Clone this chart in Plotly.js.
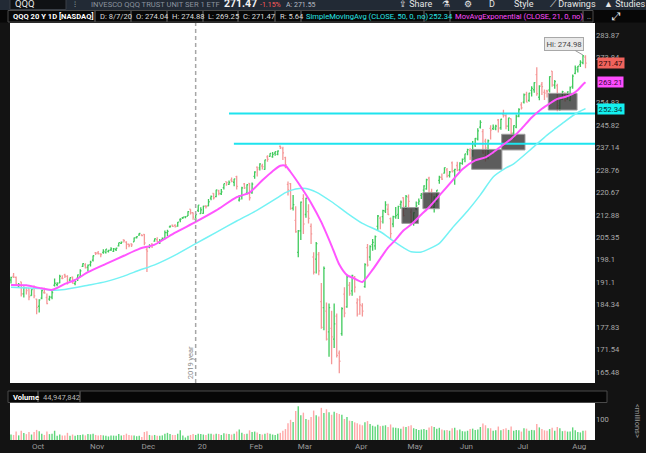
<!DOCTYPE html>
<html><head><meta charset="utf-8">
<script src="https://cdn.plot.ly/plotly-3.0.1.min.js"></script>
<style>html,body{margin:0;padding:0;background:#131313;overflow:hidden}#chart{width:646px;height:453px}</style>
</head><body><div id="chart"></div>
<script>
// ---- DATA (daily bars, Sep 18 2019 .. Aug 7 2020, index = trading day) ----
const openP = [191.8,192.9,192.6,190.0,191.2,187.6,189.5,189.2,187.1,
189.6,186.0,183.9,186.3,188.0,186.5,186.0,186.6,190.2,190.4,190.9,192.4,193.4,192.9,191.8,192.7,190.7,192.4,192.8,196.0,196.5,195.8,196.6,
198.0,200.3,200.3,200.0,200.5,200.4,200.8,201.3,200.8,201.4,202.6,203.4,204.5,203.8,203.1,203.2,203.9,205.3,206.1,206.2,
206.3,201.4,202.2,203.2,204.1,204.6,203.9,204.6,205.0,206.9,208.8,209.4,209.3,209.1,211.2,211.9,212.2,212.5,214.8,213.6,211.4,
214.4,213.3,213.4,215.8,216.0,218.7,220.3,219.2,221.2,220.2,222.4,224.5,223.5,225.1,224.3,226.3,218.0,219.2,223.7,220.4,223.9,
220.5,226.4,229.8,229.5,230.2,229.0,233.6,233.8,233.6,235.0,234.5,237.6,236.7,233.3,223.5,223.8,215.2,211.0,200.5,
207.5,218.5,213.0,214.0,209.0,199.0,198.3,199.8,185.3,183.5,182.5,176.5,177.5,174.5,181.0,170.6,176.0,187.5,183.7,190.2,188.5,192.8,
184.9,185.8,184.0,189.8,202.0,199.0,203.0,202.6,209.0,211.8,212.3,214.2,214.8,211.6,209.8,212.2,213.0,216.5,218.8,215.8,219.0,
213.8,210.0,215.0,217.0,219.6,221.5,221.9,225.8,220.8,215.5,217.6,225.0,226.0,227.6,228.8,226.8,231.4,228.5,230.4,228.9,
231.2,233.1,235.5,236.0,234.6,238.1,240.3,245.0,243.2,239.6,233.3,244.5,244.4,244.3,247.8,244.8,250.0,249.5,245.4,248.3,242.6,245.0,
249.4,253.9,255.0,258.2,255.7,259.8,260.1,266.5,257.0,262.3,259.0,259.6,260.0,268.0,262.0,261.8,252.6,256.1,258.7,256.2,255.7,261.5,
267.0,268.6,270.8,271.6,274.04];
const highP = [192.8,194.0,192.9,190.9,191.3,189.8,189.6,189.3,189.0,
190.1,186.1,186.0,188.8,189.4,187.7,187.0,188.5,192.3,191.1,193.4,193.3,193.7,193.3,192.6,192.9,191.4,193.5,195.1,197.0,197.0,196.6,197.8,
199.5,200.6,200.9,200.2,201.5,201.6,201.3,202.1,201.9,202.0,203.6,204.0,204.7,204.1,203.3,203.4,205.3,205.7,206.8,206.4,
206.5,202.3,203.1,203.4,205.0,205.4,204.8,205.3,207.6,207.9,209.3,209.6,209.7,210.5,211.7,212.1,212.4,214.1,214.8,213.7,213.1,
216.2,215.5,216.0,216.3,218.4,219.6,220.4,221.6,221.6,221.9,223.8,224.5,224.9,226.0,225.6,226.6,219.8,222.7,224.0,223.6,224.0,
224.2,228.3,230.0,231.2,231.0,232.5,234.2,235.0,235.4,235.6,236.0,237.9,237.4,233.6,224.6,224.0,219.8,215.8,207.8,
217.5,220.0,218.8,216.5,210.0,200.5,203.8,200.6,190.9,196.0,185.0,184.7,182.6,184.7,181.8,171.3,183.6,189.6,193.4,191.2,193.4,193.0,
186.3,187.0,184.8,197.0,203.2,202.8,204.8,206.0,212.8,212.3,214.6,217.6,216.7,212.0,212.6,215.6,216.0,217.8,219.0,219.8,219.9,
215.0,213.8,217.5,218.5,220.5,223.2,225.6,226.3,222.0,219.3,221.5,226.6,227.5,229.7,229.5,228.4,231.9,229.2,231.8,231.6,
233.0,234.8,236.7,236.8,239.6,240.8,244.6,247.7,244.3,240.5,240.2,245.7,246.0,245.9,248.2,248.3,251.9,250.1,248.7,248.4,245.7,250.0,
252.5,254.9,258.5,259.3,258.9,261.6,263.2,269.6,262.0,263.3,260.2,260.1,265.8,268.0,264.2,262.6,256.6,259.7,259.0,259.5,261.5,266.5,
270.4,270.2,272.7,274.98,274.88];
const lowP = [190.7,192.4,190.2,189.6,186.8,186.5,187.4,185.7,187.0,
186.3,181.6,182.1,186.0,187.6,184.5,185.5,186.0,189.8,189.9,190.8,192.0,192.4,190.4,191.4,190.7,190.2,191.5,192.7,195.8,195.4,194.4,196.0,
197.6,199.6,199.8,198.9,200.0,200.1,200.4,200.9,200.6,200.9,202.4,203.2,203.7,201.5,202.1,202.2,203.9,205.0,205.9,205.7,
202.8,194.3,201.8,201.9,203.9,203.8,203.2,204.3,204.7,205.8,208.5,208.8,208.6,208.9,210.4,211.5,211.7,212.5,213.0,211.2,211.0,
213.9,213.3,213.3,215.1,215.8,217.9,218.2,219.0,219.7,219.8,221.7,223.0,223.3,224.3,222.9,221.7,217.5,218.2,221.9,219.9,217.8,
220.2,225.6,226.4,228.6,228.9,228.8,231.8,233.6,233.3,234.0,234.2,236.6,232.4,229.4,219.6,214.6,214.4,206.9,198.9,
204.5,206.5,211.9,210.0,203.2,193.5,193.8,193.3,177.4,177.0,174.1,169.6,167.6,172.0,169.4,165.2,175.4,180.7,183.5,187.0,187.0,188.0,
180.9,181.4,180.9,189.4,196.0,197.8,201.0,201.3,207.8,208.0,210.0,213.5,212.8,204.5,208.7,211.6,211.5,215.0,212.3,214.8,215.6,
209.9,209.2,214.5,216.3,218.4,220.6,221.6,220.1,215.0,213.7,217.2,223.8,225.1,227.5,226.0,226.0,227.9,223.4,228.3,228.0,
230.7,231.6,234.2,232.4,233.6,237.3,239.8,244.5,234.8,231.9,232.7,240.2,243.9,243.8,242.9,244.0,248.8,244.2,243.5,242.1,240.6,244.6,
248.9,252.0,254.4,254.9,255.2,257.3,258.9,257.6,255.8,257.9,255.9,256.9,259.0,261.4,260.5,251.3,251.5,255.9,255.3,256.0,255.4,260.5,
266.6,267.4,269.7,270.9,269.25];
const closeP = [192.6,192.7,190.5,190.4,187.6,189.5,188.6,186.7,188.9,
187.0,183.6,185.8,188.6,187.9,184.7,186.6,188.0,190.8,190.6,192.9,192.3,193.0,191.0,192.5,190.8,191.3,193.4,194.6,196.9,195.6,196.4,197.4,
199.4,200.2,200.1,199.8,200.8,201.5,201.1,201.6,201.6,201.8,203.6,203.8,204.3,203.1,202.7,202.9,205.2,205.6,206.7,205.9,
203.5,200.9,202.5,202.9,204.9,203.9,204.2,205.1,206.9,207.3,209.1,209.0,208.9,210.4,211.4,212.1,212.3,214.0,213.6,212.1,213.0,
216.2,214.6,215.9,215.7,217.4,219.3,218.8,221.6,220.3,220.9,223.8,224.2,224.2,224.6,225.5,222.8,218.3,222.3,222.3,223.4,218.8,
223.6,228.0,228.9,231.0,230.0,232.5,232.7,234.9,234.5,235.6,235.8,237.2,235.1,230.7,221.6,215.1,216.4,207.2,207.5,
217.3,209.8,218.7,211.7,206.5,194.2,203.3,194.6,177.8,195.4,174.5,183.5,175.1,178.8,170.0,168.4,183.2,181.9,192.8,187.7,193.2,189.6,
181.6,184.3,182.5,196.6,196.4,202.3,203.7,205.6,212.5,210.6,214.3,216.3,213.0,206.6,212.3,212.6,215.8,217.3,212.6,219.3,217.5,
210.7,213.6,216.0,217.6,220.0,223.0,225.2,220.3,217.2,219.1,221.5,226.1,225.4,229.6,226.5,228.0,228.1,229.0,228.6,231.3,
232.7,234.7,236.3,233.2,238.6,240.6,243.5,246.9,235.1,237.0,239.7,243.8,245.0,245.4,244.4,248.1,249.7,245.4,248.6,242.6,245.6,249.2,
252.0,252.7,258.0,255.0,258.7,260.7,263.1,258.5,261.6,261.4,258.7,259.4,265.6,262.1,263.5,253.6,256.0,259.3,255.5,259.2,261.0,265.8,
269.4,270.1,271.9,274.63,271.47];
const volumeM = [26,24,40,22,44,33,28,38,26,
38,48,42,30,24,40,28,30,44,20,26,22,21,34,20,26,20,24,24,26,22,28,27,
30,24,22,24,22,20,17,22,21,20,28,22,24,30,24,22,22,18,20,14,
38,42,24,22,24,20,20,22,30,34,28,24,24,30,46,22,12,20,24,28,24,
30,28,26,24,30,30,26,30,28,24,32,30,28,26,30,40,50,34,28,30,46,
38,40,36,28,26,30,34,30,26,24,30,34,44,52,80,96,86,138,161,
118,130,100,96,110,140,118,112,153,128,146,132,120,134,128,124,120,100,110,92,90,84,
80,74,70,84,90,76,68,64,72,66,68,70,62,74,60,58,56,54,64,62,66,
70,56,52,48,50,52,48,60,66,62,54,58,50,46,48,44,56,58,46,50,
42,40,44,52,54,48,50,62,78,70,56,56,44,46,64,46,52,56,48,64,44,48,
46,40,56,54,44,48,46,76,60,52,46,44,52,58,44,62,56,42,44,40,40,60,
46,38,36,44,44.95];
const emaIdx = [0,6,11,16,21,25,30,37,44,50,56,64,72,80,88,93,98,102,105,107,109,113,117,121,125,128,131,134,137,141,144,147,150,153,156,160,163,168,172,176,181,185,188,191,195,199,203,207,210,213,216,219,221,223,224];
const emaVal = [190.3,190.2,189.4,188.8,190.6,191.8,194.2,196.8,199.4,201.6,203.0,206.9,210.5,214.4,219.0,220.6,225.0,228.3,230.3,230.3,228.0,222.7,217.0,210.4,202.6,196.6,193.3,192.2,191.2,195.0,198.5,202.0,204.6,207.6,209.6,213.0,215.5,220.6,224.8,229.0,232.3,233.4,235.3,237.5,240.4,244.3,248.8,252.3,254.4,256.3,257.1,258.4,260.0,262.3,263.21];
const smaIdx = [0,11,16,21,30,37,44,50,56,64,72,80,88,96,103,107,111,115,119,125,131,137,144,149,153,156,160,163,167,172,178,183,188,193,196,203,209,215,220,224];
const smaVal = [189.6,189.2,188.7,188.9,190.2,191.3,193.0,194.8,196.5,199.6,203.3,207.0,210.8,214.5,218.3,220.6,221.9,222.1,220.8,217.4,213.5,210.0,207.2,204.2,202.0,200.7,200.6,201.6,203.4,208.4,214.2,219.8,226.2,229.5,231.0,236.7,241.9,246.5,250.2,252.34];
// Drawn support levels and boxes
const levelStart = [85, 86.9];
const levelPrice = [250.39, 238.57];
const boxStart = [152.4, 160.6, 179.6, 191.3, 209.5];
const boxEnd   = [158.9, 167.0, 191.4, 200.4, 220.7];
const boxLow   = [210.0, 215.0, 229.0, 236.2, 251.8];
const boxHigh  = [215.4, 220.6, 236.4, 242.2, 258.6];
// Axis labels (264.17 sits fully behind the EMA tag in the reference, so it is not listed)
const monthTickIdx = [9,32,52,73,94,113,135,156,176,198,220];
const monthTickText = ['Oct','Nov','Dec','20','Feb','Mar','Apr','May','Jun','Jul','Aug'];
const priceTicks = [165.48,171.54,177.83,184.34,191.1,198.1,205.35,212.88,220.67,228.76,237.14,245.82,254.83,273.84,283.87];
const priceTickText = ['165.48','171.54','177.83','184.34','191.1','198.1','205.35','212.88','220.67','228.76','237.14','245.82','254.83','273.84','283.87'];
const lastClose = 271.47, lastEma = 263.21, lastSma = 252.34, hiValue = 274.98, hiIdx = 223;
const yearBoundaryIdx = 72;

// ---- LAYOUT HELPERS ----
const W=646,H=453,ML=10,MR=51,MT=23,MB=13, PW=W-ML-MR, PH=H-MT-MB;
const px = x => (x-ML)/PW;
const py = y => (H-MB-y)/PH;
const FONT = 'Roboto, "Open Sans", Arial, sans-serif';
const idx = closeP.map((_, i) => i);
const upCol = '#3fca5c', dnCol = '#f59898';

const traces = [];
traces.push({type:'ohlc', x:idx, open:openP, high:highP, low:lowP, close:closeP, xaxis:'x', yaxis:'y',
  increasing:{line:{color:upCol,width:1.3}}, decreasing:{line:{color:dnCol,width:1.3}}, tickwidth:0.45, hoverinfo:'skip', showlegend:false});
for (let k=0;k<boxStart.length;k++){
  traces.push({type:'scatter', mode:'lines', x:[boxStart[k],boxEnd[k],boxEnd[k],boxStart[k],boxStart[k]],
    y:[boxLow[k],boxLow[k],boxHigh[k],boxHigh[k],boxLow[k]], fill:'toself', fillcolor:'rgba(48,48,48,0.78)',
    line:{color:'#9c9c9c',width:1}, xaxis:'x', yaxis:'y', hoverinfo:'skip', showlegend:false});
}
for (let k=0;k<levelStart.length;k++){
  traces.push({type:'scatter', mode:'lines', x:[levelStart[k], 240], y:[levelPrice[k], levelPrice[k]],
    line:{color:'#1ee3ee',width:2}, xaxis:'x', yaxis:'y', hoverinfo:'skip', showlegend:false});
}
traces.push({type:'scatter', mode:'lines', x:smaIdx, y:smaVal, line:{color:'#74f2f4',width:1.5,shape:'spline',smoothing:0.6}, xaxis:'x', yaxis:'y', hoverinfo:'skip', showlegend:false});
traces.push({type:'scatter', mode:'lines', x:emaIdx, y:emaVal, line:{color:'#ff55ff',width:2,shape:'spline',smoothing:0.6}, xaxis:'x', yaxis:'y', hoverinfo:'skip', showlegend:false});
traces.push({type:'bar', x:idx, y:volumeM, xaxis:'x', yaxis:'y2', width:0.55,
  marker:{color:closeP.map((c,i)=> c>=openP[i] ? '#5fd67a' : '#ffa8a8'), line:{width:0}}, hoverinfo:'skip', showlegend:false});

const shapes = [];
const ann = [];
function rectPx(x0,y0,x1,y1,fill,border){
  shapes.push({type:'rect', xref:'paper', yref:'paper', x0:px(x0), x1:px(x1), y0:py(y1), y1:py(y0),
    fillcolor:fill||'rgba(0,0,0,0)', line:{color:border||'rgba(0,0,0,0)', width:border?1:0}, layer:'above'});
}
function textPx(x,y,t,opt){
  opt=opt||{};
  ann.push({xref:'paper', yref:'paper', x:px(x), y:py(y), text:t, showarrow:false,
    xanchor:opt.xanchor||'left', yanchor:opt.yanchor||'middle', textangle:opt.angle||0,
    font:{family:FONT, size:opt.size||7.6, color:opt.color||'#dcdcdc', weight:opt.bold?700:400}});
}
// toolbar (cut off at top, as in the screenshot)
rectPx(0,-2,646,10,'#222a35');
rectPx(10,-2,66,9.5,'#0f1114','#3a3f47');
textPx(13,3.5,'QQQ',{size:9.5,color:'#e8e8e8'});
textPx(72,4,'⁝',{size:8,color:'#9aa'});
textPx(89,4,'INVESCO QQQ TRUST UNIT SER 1 ETF',{size:7.6,color:'#8b939e'});
textPx(222,3.5,'271.47',{size:10.5,color:'#f2f2f2',bold:true});
textPx(258,5,'-1.15%',{size:7,color:'#ff5a5a'});
textPx(284,5,'A: 271.55',{size:7,color:'#b9bec6'});
textPx(397,3.5,'⇪ Share',{size:9,color:'#e6e6e6'});
textPx(440,3.5,'⚗',{size:9,color:'#e6e6e6'});
textPx(462,3.5,'⚙',{size:9,color:'#e6e6e6'});
textPx(487,3.5,'D',{size:9,color:'#e6e6e6'});
textPx(512,3.5,'Style',{size:9,color:'#e6e6e6'});
textPx(548,3.5,'⟋ Drawings',{size:9,color:'#e6e6e6'});
textPx(602,3.5,'▲ Studies',{size:9,color:'#e6e6e6'});
// study header row
rectPx(0,10,646,22.5,'#070707');
const cells = [[8,95],[95,131],[131,167],[167,203],[203,238],[238,275],[275,301],[301,424],[424,450],[450,583],[583,593]];
cells.forEach(c=>rectPx(c[0],10.5,c[1],22,null,'#4a4a4a'));
textPx(11,16.3,'QQQ 20 Y 1D [NASDAQ]',{color:'#ffffff',bold:true});
textPx(98,16.3,'D: 8/7/20');
textPx(134,16.3,'O: 274.04');
textPx(170,16.3,'H: 274.88');
textPx(206,16.3,'L: 269.25');
textPx(241,16.3,'C: 271.47');
textPx(278,16.3,'R: 5.64');
textPx(304,16.3,'SimpleMovingAvg (CLOSE, 50, 0, no)',{color:'#27e6e6'});
textPx(427,16.3,'252.34',{color:'#27e6e6'});
textPx(453,16.3,'MovAvgExponential (CLOSE, 21, 0, no)',{color:'#ff4cff'});
textPx(585,16.3,'..',{color:'#cccccc'});
textPx(616,16,'⤢',{size:11,color:'#f0f0f0',xanchor:'center'});
// volume header row
rectPx(8,391,607,402.5,'#070707');
[[8,38],[38,80],[80,607]].forEach(c=>rectPx(c[0],391,c[1],402.5,null,'#4a4a4a'));
textPx(11,397,'Volume',{color:'#ffffff',bold:true});
textPx(41,397,'44,947,842',{color:'#b8b8b8'});
textPx(638,421,'<millions>',{size:7.5,color:'#9a9a9a',angle:90,xanchor:'center'});

// year separator
shapes.push({type:'line', xref:'x', yref:'paper', x0:yearBoundaryIdx, x1:yearBoundaryIdx, y0:py(383), y1:1,
  line:{color:'#a6a6a6', width:1.5, dash:'4px,3px'}, layer:'above'});
ann.push({xref:'x', yref:'paper', x:yearBoundaryIdx, xshift:-5, y:py(381), yanchor:'bottom', text:'2019 year', showarrow:false,
  textangle:-90, font:{family:FONT,size:7.5,color:'#8a8a8a'}});
// Hi bubble
ann.push({xref:'x', yref:'y', x:hiIdx, y:Math.log10(hiValue), text:'Hi: '+hiValue.toFixed(2), showarrow:true,
  arrowhead:0, arrowwidth:1, arrowcolor:'#9a9a9a', ax:-19, ay:-11, bgcolor:'#e9e9e9', bordercolor:'#a8a8a8',
  borderwidth:1, borderpad:1.5, font:{family:FONT,size:7.8,color:'#454545'}});
// last value tags on the price axis
[[lastClose,'#f0635c','#2a0606'],[lastEma,'#ff4dff','#3a0a3a'],[lastSma,'#14f0f0','#053535']].forEach(v=>{
  ann.push({xref:'paper', yref:'y', x:1, xanchor:'left', xshift:1.5, y:Math.log10(v[0]), text:v[0].toFixed(2),
    showarrow:false, bgcolor:v[1], borderpad:0.5, font:{family:FONT,size:7.8,color:v[2]}});
});

const layout = {
  width:W, height:H, margin:{l:ML,r:MR,t:MT,b:MB,pad:0},
  paper_bgcolor:'#131313', plot_bgcolor:'#ffffff', showlegend:false, dragmode:false,
  xaxis:{type:'linear', range:[-0.39,227.7], anchor:'y2', tickvals:monthTickIdx, ticktext:monthTickText,
    ticks:'', showgrid:false, zeroline:false, showline:false, ticklabelshift:4,
    tickfont:{family:FONT,size:8,color:'#9a9a9a'}, rangeslider:{visible:false}, fixedrange:true},
  yaxis:{type:'log', domain:[py(383),1], range:[Math.log10(162.64), Math.log10(289.44)], side:'right',
    tickvals:priceTicks, ticktext:priceTickText, ticks:'', showgrid:false, zeroline:false, showline:false,
    tickfont:{family:FONT,size:7.6,color:'#a9a9a9'}, fixedrange:true},
  yaxis2:{domain:[0,py(403)], range:[0,176], side:'right', tickvals:[100], ticktext:['100'], ticks:'',
    showgrid:false, zeroline:false, showline:false, tickfont:{family:FONT,size:7.6,color:'#a9a9a9'}, fixedrange:true},
  bargap:0.4, shapes:shapes, annotations:ann
};
Plotly.newPlot('chart', traces, layout, {displayModeBar:false, staticPlot:true});
</script></body></html>
